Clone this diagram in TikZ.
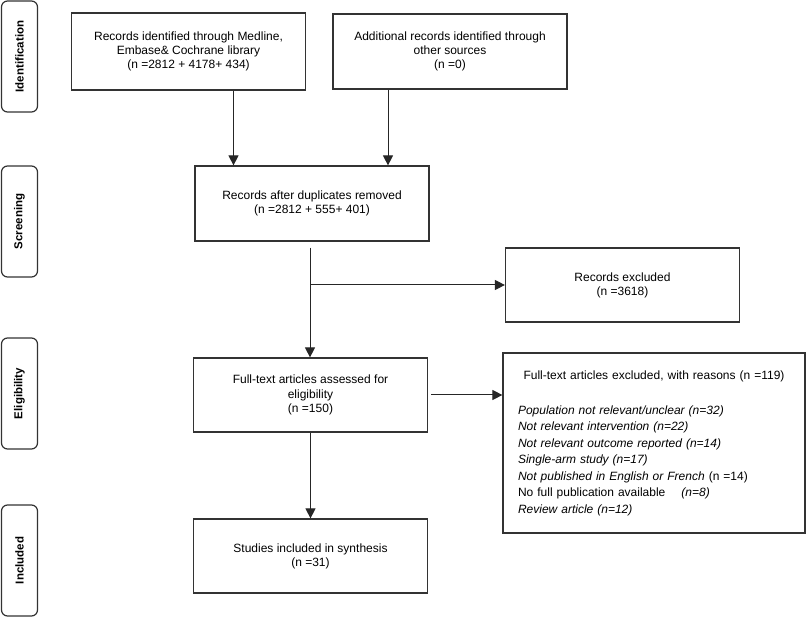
\documentclass[tikz,border=0pt]{standalone}
\usepackage{fontspec}
\setmainfont{Liberation Sans}
\usetikzlibrary{arrows.meta, calc}
\tikzset{box/.style = {draw = black!80, line width = 1.2pt, minimum width = 234pt, minimum height = 75pt, inner sep = 0pt, align = center, font = \fontsize{12}{14.2}\selectfont}}
\tikzset{stage/.style = {draw = black!80, line width = 1.2pt, rounded corners = 6pt, minimum width = 111pt, minimum height = 36pt, inner sep = 0pt, rotate = 90, font = \bfseries\fontsize{11.5}{13}\selectfont}}
\tikzset{arr/.style = {-{Triangle[length = 10pt, width = 10pt]}, line width = 1pt, black!85}}

\begin{document}
\begin{tikzpicture}[x = 1pt, y = -1pt]
\useasboundingbox (0,0) rectangle (806,617);
\node [stage] (ident) at (19.5,56.5) {Identification};
\node [stage] (screen) at (19.5,221.5) {Screening};
\node [stage] (elig) at (19.5,393.5) {Eligibility};
\node [stage] (incl) at (19.5,560.5) {Included};
\node [box, minimum height = 77pt] (records) at (188.5,51.5) {Records identified through Medline,\\ Embase\& Cochrane library\\ (n =2812 + 4178+ 434)};
\node [box] (other) at (450,51.5) {Additional records identified through\\ other sources\\ (n =0)};
\node [box] (dupl) at (312,203.5) {Records after duplicates removed\\ (n =2812 + 555+ 401)};
\node [box, minimum height = 74pt] (excl) at (622.5,285) {Records excluded\\ (n =3618)};
\node [box, minimum height = 74pt] (full) at (310.5,395) {Full-text articles assessed for\\ eligibility\\ (n =150)};
\node [box, minimum width = 302pt, minimum height = 180pt, text width = 272pt, align = left, font = \fontsize{12}{16.5}\selectfont] (reasons) at (654,443) {\makebox[272pt][c]{Full-text articles excluded, with reasons (n =119)}\\[18.5pt]
\textit{Population not relevant/unclear (n=32)}\\
\textit{Not relevant intervention (n=22)}\\
\textit{Not relevant outcome reported (n=14)}\\
\textit{Single-arm study (n=17)}\\
\textit{Not published in English or French} (n =14)\\
No full publication available \quad\textit{(n=8)}\\
\textit{Review article (n=12)}};
\node [box, minimum height = 74pt] (studies) at (310.5,556) {Studies included in synthesis\\ (n =31)};
\coordinate (split) at ($(dupl.south) + (-2,6)$);
\draw [arr] ([xshift = 45pt]records.south) -- ([xshift = 45pt]records.south |- dupl.north);
\draw [arr] ([xshift = -62pt]other.south) -- ([xshift = -62pt]other.south |- dupl.north);
\draw [arr] (split) -- (split |- full.north);
\draw [arr] (split |- excl.west) -- (excl.west);
\draw [arr] ([xshift = 3pt]full.east) -- (full.east -| reasons.west);
\draw [arr] (full.south) -- (studies.north);
\end{tikzpicture}
\end{document}
